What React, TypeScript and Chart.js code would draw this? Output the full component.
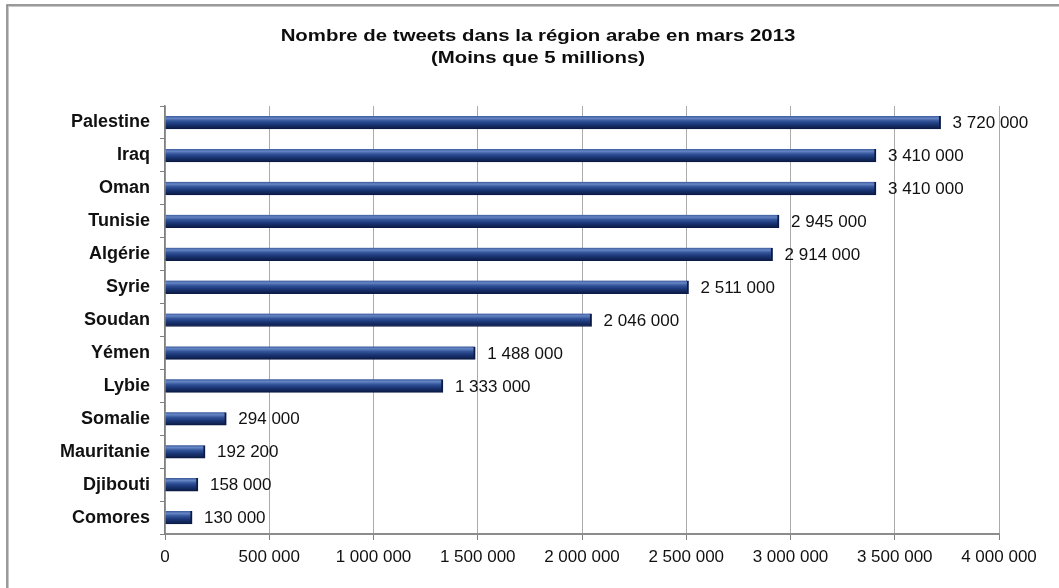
import React, { useEffect, useRef } from 'react';
import { Chart, registerables } from 'chart.js';

Chart.register(...registerables);

const countries = ['Palestine', 'Iraq', 'Oman', 'Tunisie', 'Algérie', 'Syrie', 'Soudan', 'Yémen', 'Lybie', 'Somalie', 'Mauritanie', 'Djibouti', 'Comores'];
const tweets = [3720000, 3410000, 3410000, 2945000, 2914000, 2511000, 2046000, 1488000, 1333000, 294000, 192200, 158000, 130000];
const titleLines = ['Nombre de tweets dans la région arabe en mars 2013', '(Moins que 5 millions)'];
const axisMin = 0;
const axisMax = 4000000;
const axisStep = 500000;

const W = 1059;
const H = 588;
const FONT = '"Liberation Sans", Arial, sans-serif';

function fmt(v: number): string {
  return String(Math.round(v)).replace(/\B(?=(\d{3})+(?!\d))/g, ' ');
}

const framePlugin = {
  id: 'frame',
  beforeDraw(chart: any) {
    const c = chart.ctx;
    c.save();
    c.fillStyle = '#ffffff';
    c.fillRect(0, 0, chart.width, chart.height);
    c.strokeStyle = '#7a7a7a';
    c.lineWidth = 1.5;
    c.strokeRect(7, 5, chart.width + 50, chart.height + 50);
    c.strokeStyle = '#c8c8c8';
    c.lineWidth = 1;
    c.strokeRect(8.5, 6.5, chart.width + 50, chart.height + 50);
    c.restore();
  },
};

const titlePlugin = {
  id: 'stretchedTitle',
  afterDraw(chart: any) {
    const c = chart.ctx;
    c.save();
    c.fillStyle = '#0d0d0d';
    c.font = `bold 17px ${FONT}`;
    c.textAlign = 'center';
    c.textBaseline = 'alphabetic';
    const ys = [41, 63];
    titleLines.forEach((t, i) => {
      c.save();
      c.translate(538, ys[i]);
      c.scale(1.2, 1);
      c.fillText(t, 0, 0);
      c.restore();
    });
    c.restore();
  },
};

const valueLabelPlugin = {
  id: 'valueLabels',
  afterDatasetsDraw(chart: any) {
    const c = chart.ctx;
    const meta = chart.getDatasetMeta(0);
    const data = chart.data.datasets[0].data as number[];
    c.save();
    c.fillStyle = '#111111';
    c.font = `17px ${FONT}`;
    c.textAlign = 'left';
    c.textBaseline = 'middle';
    meta.data.forEach((el: any, i: number) => {
      c.fillText(fmt(data[i]), el.x + 12, el.y + 1);
    });
    c.restore();
  },
};

export default function App() {
  const ref = useRef<HTMLCanvasElement | null>(null);

  useEffect(() => {
    if (!ref.current) return;
    const chart = new Chart(ref.current, {
      type: 'bar',
      data: {
        labels: countries,
        datasets: [
          {
            data: tweets,
            barThickness: 13,
            backgroundColor: (ctx: any) => {
              const chart = ctx.chart;
              const ys = chart.scales && chart.scales.y;
              if (!ys || ctx.dataIndex === undefined) return '#1f3a7a';
              const cy = ys.getPixelForValue(ctx.dataIndex);
              if (!Number.isFinite(cy)) return '#1f3a7a';
              const h = 13;
              const g = chart.ctx.createLinearGradient(0, cy - h / 2, 0, cy + h / 2);
              g.addColorStop(0, '#3a5a9c');
              g.addColorStop(0.18, '#6585c4');
              g.addColorStop(0.38, '#34559a');
              g.addColorStop(0.62, '#1c387a');
              g.addColorStop(0.85, '#112658');
              g.addColorStop(1, '#0b1a45');
              return g;
            },
            borderColor: '#0c1b45',
            borderWidth: { top: 0, right: 2, bottom: 1, left: 0 },
            borderSkipped: false,
          },
        ],
      },
      options: {
        indexAxis: 'y',
        responsive: false,
        animation: false,
        devicePixelRatio: 1,
        layout: { padding: { left: 0, right: 60, top: 106, bottom: 14 } },
        plugins: {
          legend: { display: false },
          title: { display: false },
          tooltip: { enabled: false },
        },
        scales: {
          x: {
            type: 'linear',
            min: axisMin,
            max: axisMax,
            afterFit: (s: any) => {
              s.height = 40;
            },
            ticks: {
              stepSize: axisStep,
              color: '#111111',
              font: { family: FONT, size: 17 },
              padding: 7,
              maxRotation: 0,
              autoSkip: false,
              callback: (v: any) => fmt(Number(v)),
            },
            grid: {
              color: '#ababab',
              lineWidth: 1,
              tickColor: '#808080',
              tickLength: 6,
            },
            border: { display: true, color: '#8c8c8c', width: 2 },
          },
          y: {
            type: 'category',
            offset: true,
            afterFit: (s: any) => {
              s.width = 165;
            },
            ticks: {
              color: '#111111',
              font: { family: FONT, size: 18, weight: 'bold' },
              padding: 10,
              autoSkip: false,
            },
            grid: {
              offset: true,
              drawOnChartArea: false,
              tickColor: '#808080',
              tickLength: 5,
            },
            border: { display: true, color: '#808080', width: 1.5 },
          },
        },
      },
      plugins: [framePlugin, titlePlugin, valueLabelPlugin],
    } as any);
    return () => chart.destroy();
  }, []);

  return (
    <div style={{ position: 'absolute', left: 0, top: 0, width: W, height: H, background: '#fff' }}>
      <canvas ref={ref} width={W} height={H} style={{ display: 'block', width: W, height: H }} />
    </div>
  );
}
